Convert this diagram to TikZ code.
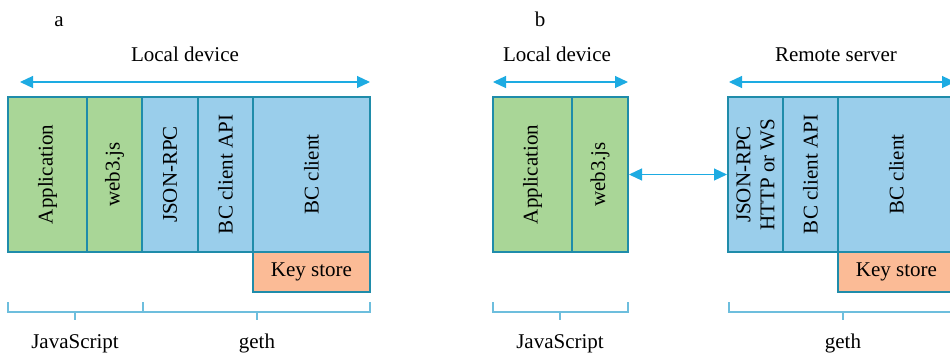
\documentclass[tikz,border=0pt]{standalone}
\usepackage{fontspec}
\setmainfont{Liberation Serif}
\usetikzlibrary{arrows.meta}

\definecolor{jsgreen}{HTML}{A9D697}
\definecolor{bcblue}{HTML}{9ACEEB}
\definecolor{keyorange}{HTML}{FBBB96}
\definecolor{edgeteal}{HTML}{1F8CAA}
\definecolor{arrowcyan}{HTML}{1DABE2}
\definecolor{bracecyan}{HTML}{6DBEDD}

\begin{document}
\begin{tikzpicture}[x=0.5pt, y=-0.5pt, font=\fontsize{10.5}{12}\selectfont,
    layer/.style={draw=edgeteal, line width=1pt, rotate=90, minimum width=77.5pt, inner sep=0pt, align=center},
    jslayer/.style={layer, fill=jsgreen},
    bclayer/.style={layer, fill=bcblue},
    keybox/.style={draw=edgeteal, line width=1pt, fill=keyorange, minimum width=58.5pt, minimum height=20pt, inner sep=0pt},
    span/.style={arrowcyan, line width=0.6pt, {Triangle[length=6.5pt,width=6pt]}-{Triangle[length=6.5pt,width=6pt]}},
    brace/.style={bracecyan, line width=0.75pt}]
    \useasboundingbox (0,0) rectangle (950,355);

    % titles
    \node (tita) at (59,26) [anchor=base] {a};
    \node (titb) at (540,26) [anchor=base] {b};
    \node (locala) at (185,61) [anchor=base] {Local device};
    \node (localb) at (557,61) [anchor=base] {Local device};
    \node (remoteb) at (836,61) [anchor=base] {Remote server};

    % Nodes
    \node (appa) at (47.5,174.5) [jslayer, minimum height=39.5pt] {Application};
    \node (weba) at (114.5,174.5) [jslayer, minimum height=27.5pt] {web3.js};
    \node (rpca) at (170,174.5) [bclayer, minimum height=28pt] {JSON-RPC};
    \node (apia) at (225.5,174.5) [bclayer, minimum height=27.5pt] {BC client API};
    \node (clienta) at (311.5,174.5) [bclayer, minimum height=58.5pt] {BC client};
    \node (keya) at (311.5,272) [keybox] {Key store};

    \node (appb) at (532.5,174.5) [jslayer, minimum height=39.5pt] {Application};
    \node (webb) at (600,174.5) [jslayer, minimum height=28pt] {web3.js};
    \node (rpcb) at (755.5,174.5) [bclayer, minimum height=27.5pt] {JSON-RPC\\HTTP or WS};
    \node (apib) at (810.5,174.5) [bclayer, minimum height=27.5pt] {BC client API};
    \node (clientb) at (896.5,174.5) [bclayer, minimum height=58.5pt] {BC client};
    \node (keyb) at (896.5,272) [keybox] {Key store};

    % edges
    \coordinate (la1) at (20,82);
    \coordinate (la2) at (370,82);
    \coordinate (lb1) at (493,82);
    \coordinate (lb2) at (628,82);
    \coordinate (rb1) at (729,82);
    \coordinate (rb2) at (955,82);
    \draw[span] (la1) -- (la2);
    \draw[span] (lb1) -- (lb2);
    \draw[span] (rb1) -- (rb2);
    \draw[span] (webb) -- (rpcb);

    % brackets
    \draw[brace] (8,302) |- (143,312) -- (143,302);
    \draw[brace] (75,312) -- (75,320);
    \draw[brace] (143,312) -| (370,302);
    \draw[brace] (257,312) -- (257,320);
    \draw[brace] (493,302) |- (628,312) -- (628,302);
    \draw[brace] (560,312) -- (560,320);
    \draw[brace] (729,302) |- (955,312);
    \draw[brace] (843,312) -- (843,320);

    \node (jsa) at (75,348) [anchor=base] {JavaScript};
    \node (getha) at (257,348) [anchor=base] {geth};
    \node (jsb) at (560,348) [anchor=base] {JavaScript};
    \node (gethb) at (843,348) [anchor=base] {geth};

\end{tikzpicture}
\end{document}
